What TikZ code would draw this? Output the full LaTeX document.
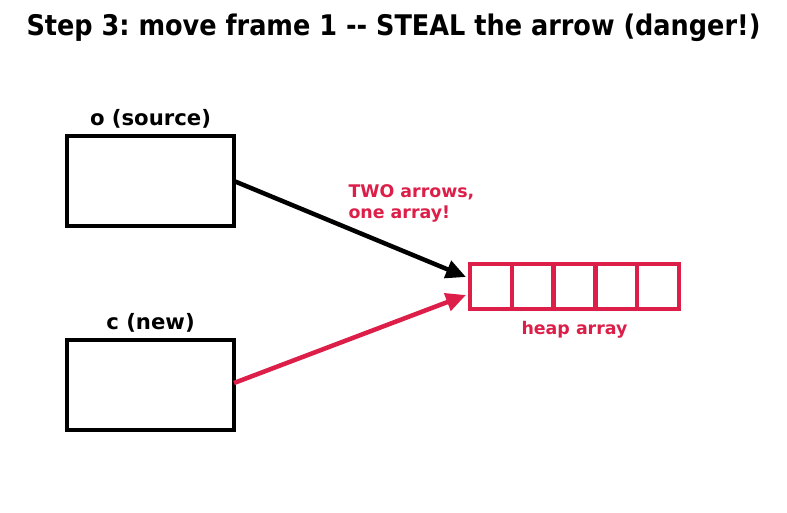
\documentclass[tikz,border=0pt]{standalone}
\usepackage{fontspec}
\setmainfont{DejaVu Sans}
\newfontfamily\condfont{DejaVu Sans Condensed}
\usetikzlibrary{arrows.meta}
\definecolor{danger}{RGB}{220,30,72}
\frenchspacing
\begin{document}
\begin{tikzpicture}[x=1pt,y=-1pt,
  frame/.style={draw=black,line width=4.5pt,fill=white},
  cell/.style={draw=danger,line width=4.5pt,minimum width=41.8pt,minimum height=45pt,inner sep=0pt,outer sep=0pt},
  lbl/.style={font=\fontsize{21.2}{25}\selectfont\bfseries,text=black},
  redlbl/.style={font=\fontsize{17.4}{21}\selectfont\bfseries,text=danger},
  ptr/.style={line width=4.5pt,-{Triangle[length=20pt,width=18pt]}}]
\useasboundingbox (0,0) rectangle (787,512);
\node[font=\condfont\fontsize{28.4}{32}\selectfont\bfseries] (title) at (393.5,27.5) {Step 3: move frame 1 -- STEAL the arrow (danger!)};
\draw[frame] (67,136) rectangle (234,226);
\coordinate (o) at (234,181);
\node[lbl] (olbl) at (150.5,119) {o (source)};
\draw[frame] (67,340) rectangle (234,430);
\coordinate (c) at (234,383);
\node[lbl] (clbl) at (150.5,323) {c (new)};
\foreach \i in {0,...,4} {
  \node[cell,anchor=north west] (cell\i) at ({470+\i*41.8},264) {};
}
\node[redlbl] (heap) at (574.5,330) {heap array};
\node[redlbl,align=left,anchor=west] (two) at (345,203) {TWO arrows,\\one array!};
\coordinate (t1) at (466,277);
\coordinate (t2) at (466,295);
\draw[ptr,draw=black,fill=black] (o) -- (t1);
\draw[ptr,draw=danger,fill=danger] (c) -- (t2);
\end{tikzpicture}
\end{document}
